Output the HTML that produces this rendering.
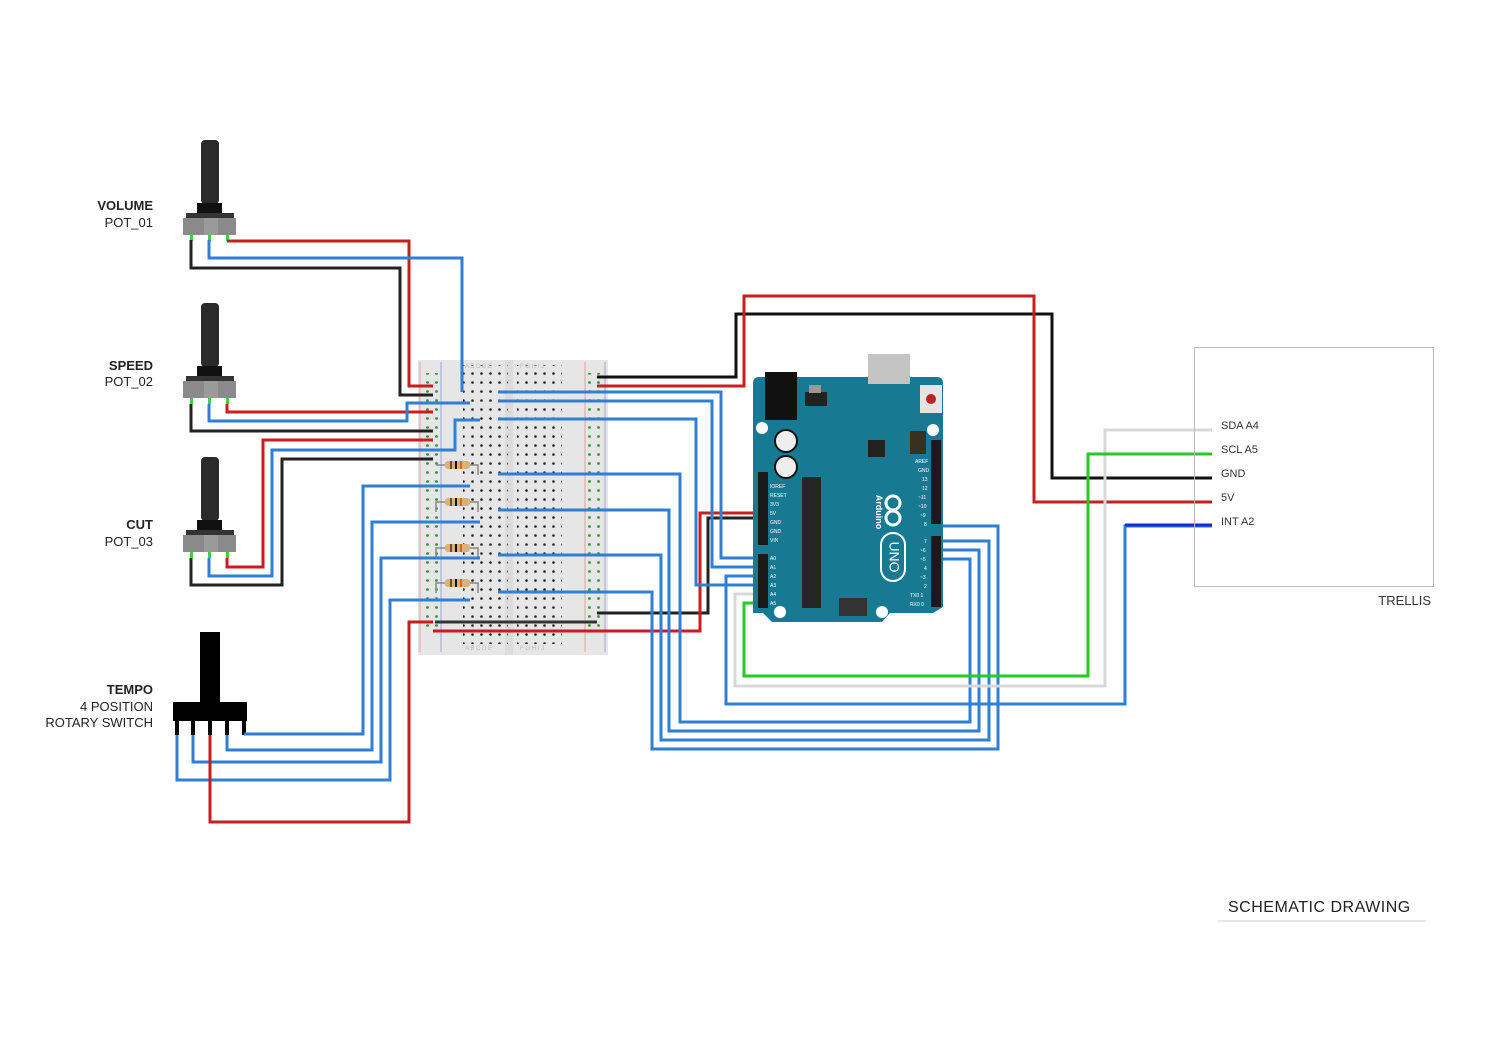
<!DOCTYPE html>
<html><head><meta charset="utf-8"><style>
body{margin:0;background:#fff;}
svg{display:block;font-family:"Liberation Sans",sans-serif;}
</style></head><body>
<svg width="1500" height="1061" viewBox="0 0 1500 1061" xmlns="http://www.w3.org/2000/svg">
<defs>
<pattern id="bbdots" x="0" y="0" width="9" height="9" patternUnits="userSpaceOnUse"><circle cx="4.5" cy="4.5" r="1.3" fill="#222"/></pattern>
<pattern id="raildots" x="0" y="0" width="9" height="9" patternUnits="userSpaceOnUse"><circle cx="4.5" cy="4.5" r="1.4" fill="#2a9a2a"/></pattern>
</defs>
<rect width="1500" height="1061" fill="#fff"/>

<!-- labels -->
<g font-size="13" fill="#222" text-anchor="end">
<text x="153" y="210" font-weight="bold">VOLUME</text><text x="153" y="227">POT_01</text>
<text x="153" y="370" font-weight="bold">SPEED</text><text x="153" y="386">POT_02</text>
<text x="153" y="529" font-weight="bold">CUT</text><text x="153" y="546">POT_03</text>
<text x="153" y="694" font-weight="bold">TEMPO</text><text x="153" y="711">4 POSITION</text><text x="153" y="727">ROTARY SWITCH</text>
</g>

<!-- breadboard -->
<rect x="418" y="360" width="190" height="295" fill="#e6e6e6"/>
<rect x="505" y="360" width="8" height="295" fill="#dcdcdc"/>
<line x1="420" y1="362" x2="420" y2="652" stroke="#e8a0a0" stroke-width="1"/>
<line x1="441" y1="362" x2="441" y2="652" stroke="#a0a0e0" stroke-width="1"/>
<line x1="585" y1="362" x2="585" y2="652" stroke="#e8a0a0" stroke-width="1"/>
<line x1="605" y1="362" x2="605" y2="652" stroke="#a0a0e0" stroke-width="1"/>
<rect x="463" y="365" width="45" height="279" fill="url(#bbdots)" transform="translate(0,0)"/>
<rect x="517" y="365" width="45" height="279" fill="url(#bbdots)"/>
<rect x="421" y="373" width="18" height="260" fill="url(#raildots)"/>
<rect x="585" y="373" width="18" height="260" fill="url(#raildots)"/>
<g font-size="6" fill="#bbb"><text x="465" y="368">A B C D E</text><text x="520" y="368">F G H I J</text><text x="465" y="650">A B C D E</text><text x="520" y="650">F G H I J</text></g>

<!-- resistors -->
<g>
<g transform="translate(0,465)"><path d="M436 0 H445 M470 0 H478 V10" stroke="#888" stroke-width="1.5" fill="none"/><rect x="445" y="-4" width="25" height="8" rx="3" fill="#d9b27a"/><rect x="450" y="-4" width="2" height="8" fill="#7a4a1a"/><rect x="455" y="-4" width="2" height="8" fill="#111"/><rect x="460" y="-4" width="2" height="8" fill="#d2691e"/></g>
<g transform="translate(0,502)"><path d="M436 10 V0 H445 M470 0 H478 V10" stroke="#888" stroke-width="1.5" fill="none"/><rect x="445" y="-4" width="25" height="8" rx="3" fill="#d9b27a"/><rect x="450" y="-4" width="2" height="8" fill="#7a4a1a"/><rect x="455" y="-4" width="2" height="8" fill="#111"/><rect x="460" y="-4" width="2" height="8" fill="#d2691e"/></g>
<g transform="translate(0,548)"><path d="M436 10 V0 H445 M470 0 H478 V10" stroke="#888" stroke-width="1.5" fill="none"/><rect x="445" y="-4" width="25" height="8" rx="3" fill="#d9b27a"/><rect x="450" y="-4" width="2" height="8" fill="#7a4a1a"/><rect x="455" y="-4" width="2" height="8" fill="#111"/><rect x="460" y="-4" width="2" height="8" fill="#d2691e"/></g>
<g transform="translate(0,583)"><path d="M436 10 V0 H445 M470 0 H478 V10" stroke="#888" stroke-width="1.5" fill="none"/><rect x="445" y="-4" width="25" height="8" rx="3" fill="#d9b27a"/><rect x="450" y="-4" width="2" height="8" fill="#7a4a1a"/><rect x="455" y="-4" width="2" height="8" fill="#111"/><rect x="460" y="-4" width="2" height="8" fill="#d2691e"/></g>
</g>

<!-- pots -->
<g id="pot">
<rect x="201" y="140" width="18" height="64" rx="4" fill="#2a2a2a"/>
<rect x="197" y="203" width="25" height="11" fill="#111"/>
<rect x="186" y="213" width="48" height="6" fill="#333"/>
<rect x="183" y="218" width="53" height="17" fill="#8a8a8a"/>
<rect x="204" y="218" width="14" height="17" fill="#9a9a9a"/>
<rect x="190" y="235" width="3" height="6" fill="#4c4"/><rect x="208" y="235" width="3" height="6" fill="#4c4"/><rect x="226" y="235" width="3" height="6" fill="#4c4"/>
</g>
<use href="#pot" transform="translate(0,163)"/>
<use href="#pot" transform="translate(0,317)"/>

<!-- rotary switch -->
<rect x="200" y="632" width="20" height="72" fill="#000"/>
<rect x="173" y="702" width="74" height="19" fill="#000"/>
<g fill="#000"><rect x="175" y="720" width="4" height="15"/><rect x="191" y="720" width="4" height="15"/><rect x="208" y="720" width="4" height="15"/><rect x="225" y="720" width="4" height="15"/><rect x="242" y="720" width="4" height="15"/></g>

<g fill="none" stroke-width="3" stroke-linejoin="miter">
<!-- pot1 -->
<path d="M227 241 H409 V386 H433" stroke="#c81e1e"/>
<path d="M191 240 V268 H400 V395 H433" stroke="#222"/>
<path d="M209 240 V258 H462 V392" stroke="#2f7fd6"/>
<!-- pot2 -->
<path d="M227 404 V412 H433" stroke="#c81e1e"/>
<path d="M209 404 V421 H407 V403 H470" stroke="#2f7fd6"/>
<path d="M191 404 V431 H433" stroke="#222"/>
<!-- pot3 -->
<path d="M227 558 V567 H263 V440 H433" stroke="#c81e1e"/>
<path d="M209 558 V576 H272 V450 H455 V420 H480" stroke="#2f7fd6"/>
<path d="M191 558 V585 H282 V459 H433" stroke="#222"/>
<!-- rotary -->
<path d="M244 734 H363 V486 H470" stroke="#2f7fd6"/>
<path d="M227 735 V750 H372 V522 H480" stroke="#2f7fd6"/>
<path d="M193 735 V762 H381 V558 H480" stroke="#2f7fd6"/>
<path d="M177 735 V780 H390 V600 H470" stroke="#2f7fd6"/>
<path d="M210 735 V822 H409 V622 H433" stroke="#c81e1e"/>
<!-- rails -->
<path d="M435 622 H597" stroke="#333"/>
<path d="M433 631 H597" stroke="#c81e1e"/>
<path d="M597 377 H736 V314 H1052 V478 H1212" stroke="#111"/>
<path d="M597 386 H744 V296 H1034 V502 H1212" stroke="#c81e1e"/>
<path d="M597 613 H708 V518 H765" stroke="#222"/>
<path d="M597 631 H700 V513 H765" stroke="#c81e1e"/>
<!-- bb to analog -->
<path d="M498 392 H721 V558 H765" stroke="#2f7fd6"/>
<path d="M498 401 H712 V567 H765" stroke="#2f7fd6"/>
<path d="M498 419 H696 V585 H765" stroke="#2f7fd6"/>
<!-- loops to digital -->
<path d="M498 474 H680 V722 H970 V559 H940" stroke="#2f7fd6"/>
<path d="M498 510 H669 V731 H979 V550 H940" stroke="#2f7fd6"/>
<path d="M498 555 H661 V740 H989 V541 H940" stroke="#2f7fd6"/>
<path d="M498 592 H652 V749 H998 V526 H940" stroke="#2f7fd6"/>
<!-- trellis -->
<path d="M1212 430 H1105 V686 H735 V594 H765" stroke="#d8d8d8"/>
<path d="M1212 454 H1088 V676 H744 V603 H765" stroke="#22cc22"/>
<path d="M1212 526 H1125 V704 H726 V576 H765" stroke="#2f7fd6"/>
<path d="M1212 525 H1125" stroke="#1a2ad6"/>
</g>

<!-- arduino -->
<rect x="868" y="354" width="42" height="50" fill="#c8c8c8"/>
<path d="M753 383 Q753 377 759 377 H937 Q943 377 943 383 V607 L933 613 H890 L882 622 H772 L763 613 H753 Z" fill="#177a92"/>
<rect x="868" y="354" width="42" height="30" fill="#c4c4c4"/>
<rect x="765" y="372" width="32" height="48" fill="#111"/>
<rect x="805" y="392" width="22" height="14" fill="#222"/><rect x="809" y="385" width="12" height="8" fill="#999"/>
<rect x="920" y="385" width="22" height="28" fill="#e4e4e4"/><circle cx="931" cy="399" r="5" fill="#b22"/>
<circle cx="762" cy="428" r="6" fill="#fff"/><circle cx="933" cy="430" r="6" fill="#fff"/><circle cx="780" cy="612" r="6" fill="#fff"/><circle cx="882" cy="612" r="6" fill="#fff"/>
<circle cx="786" cy="441" r="11" fill="#eee" stroke="#111" stroke-width="2"/><circle cx="786" cy="467" r="11" fill="#eee" stroke="#111" stroke-width="2"/>
<rect x="802" y="477" width="19" height="131" fill="#262626"/>
<rect x="868" y="440" width="17" height="17" fill="#222"/>
<rect x="910" y="431" width="16" height="23" fill="#3a3020"/>
<rect x="758" y="472" width="10" height="73" fill="#1a1a1a"/>
<rect x="758" y="554" width="10" height="54" fill="#1a1a1a"/>
<rect x="931" y="440" width="10" height="84" fill="#1a1a1a"/>
<rect x="931" y="536" width="10" height="71" fill="#1a1a1a"/>
<rect x="839" y="598" width="28" height="18" fill="#333"/>
<g fill="none" stroke="#fff" stroke-width="3"><circle cx="893" cy="503" r="7"/><circle cx="893" cy="518" r="7"/></g>
<rect x="881" y="533" width="24" height="48" rx="12" fill="none" stroke="#fff" stroke-width="2"/>
<text x="893" y="557" font-size="14" fill="#fff" text-anchor="middle" transform="rotate(90 893 557)" dominant-baseline="middle">UNO</text>
<text x="876" y="512" font-size="9" fill="#fff" text-anchor="middle" transform="rotate(90 876 512)" font-weight="bold">Arduino</text>
<g font-size="5" fill="#fff"><text x="770" y="488">IOREF</text><text x="770" y="497">RESET</text><text x="770" y="506">3V3</text><text x="770" y="515">5V</text><text x="770" y="524">GND</text><text x="770" y="533">GND</text><text x="770" y="542">VIN</text>
<text x="770" y="560">A0</text><text x="770" y="569">A1</text><text x="770" y="578">A2</text><text x="770" y="587">A3</text><text x="770" y="596">A4</text><text x="770" y="605">A5</text>
<text x="915" y="463">AREF</text><text x="918" y="472">GND</text><text x="922" y="481">13</text><text x="922" y="490">12</text><text x="918" y="499">~11</text><text x="918" y="508">~10</text><text x="920" y="517">~9</text><text x="924" y="526">8</text><text x="924" y="543">7</text><text x="920" y="552">~6</text><text x="920" y="561">~5</text><text x="924" y="570">4</text><text x="920" y="579">~3</text><text x="924" y="588">2</text><text x="910" y="597">TX0 1</text><text x="910" y="606">RX0 0</text></g>

<!-- trellis box -->
<rect x="1194.5" y="347.5" width="239" height="239" fill="none" stroke="#bbb" stroke-width="1"/>
<g font-size="11" fill="#333"><text x="1221" y="429">SDA A4</text><text x="1221" y="453">SCL A5</text><text x="1221" y="477">GND</text><text x="1221" y="501">5V</text><text x="1221" y="525">INT A2</text></g>
<text x="1431" y="605" font-size="13" fill="#333" text-anchor="end">TRELLIS</text>

<text x="1228" y="912" font-size="16" fill="#222" letter-spacing="0.5">SCHEMATIC DRAWING</text>
<line x1="1218" y1="921" x2="1426" y2="921" stroke="#ccc" stroke-width="1"/>
</svg>
</body></html>
